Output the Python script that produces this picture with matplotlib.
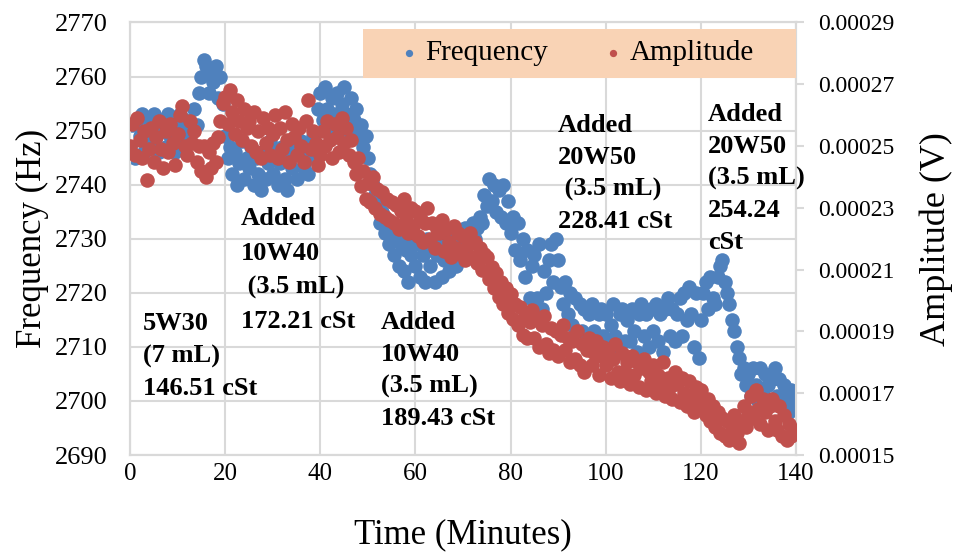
import numpy as np
import matplotlib.pyplot as plt
from matplotlib.patches import Rectangle

plt.rcParams['font.family'] = 'Liberation Serif'

# Sampling times (minutes), one reading every half minute
time_min = np.arange(0, 140.5, 0.5)

# Resonant frequency readings (Hz)
frequency_hz = [
    2747, 2751, 2745, 2752, 2749, 2753, 2746, 2750, 2752, 2748,
    2753, 2749, 2746, 2752, 2750, 2747, 2753, 2749, 2751, 2746,
    2750, 2753, 2747, 2752, 2749, 2751, 2750, 2754, 2751, 2757,
    2760, 2763, 2762, 2757, 2761, 2759, 2762, 2756, 2760, 2755,
    2749, 2745, 2747, 2742, 2746, 2740, 2744, 2748, 2741, 2745,
    2743, 2747, 2740, 2745, 2742, 2739, 2746, 2741, 2744, 2748,
    2742, 2746, 2740, 2744, 2747, 2741, 2739, 2745, 2743, 2747,
    2741, 2746, 2748, 2743, 2747, 2742, 2745, 2749, 2746, 2754,
    2757, 2752, 2758, 2754, 2750, 2756, 2753, 2757, 2751, 2755,
    2758, 2753, 2750, 2756, 2752, 2754, 2749, 2751, 2747, 2749,
    2745, 2742, 2740, 2738, 2736, 2733, 2735, 2731, 2733, 2729,
    2731, 2727, 2730, 2725, 2729, 2724, 2728, 2722, 2727, 2730,
    2725, 2729, 2723, 2727, 2722, 2730, 2725, 2728, 2722, 2727,
    2729, 2723, 2726, 2730, 2724, 2728, 2731, 2725, 2729, 2731,
    2728, 2732, 2729, 2731, 2733, 2730, 2732, 2734, 2733, 2738,
    2736, 2741, 2737, 2740, 2735, 2739, 2734, 2740, 2733, 2737,
    2731, 2734, 2728, 2733, 2726, 2730, 2723, 2728, 2719, 2725,
    2727, 2719, 2729, 2717, 2724, 2720, 2726, 2729, 2722, 2730,
    2726, 2721, 2718, 2722, 2716, 2720, 2714, 2719, 2713, 2718,
    2713, 2717, 2711, 2716, 2718, 2713, 2710, 2716, 2717, 2712,
    2716, 2710, 2714, 2718, 2712, 2709, 2716, 2717, 2711, 2715,
    2711, 2717, 2713, 2709, 2716, 2718, 2712, 2716, 2710, 2717,
    2713, 2718, 2711, 2716, 2709, 2717, 2719, 2712, 2717, 2711,
    2716, 2719, 2712, 2720, 2715, 2721, 2716, 2710, 2720, 2708,
    2715, 2720, 2722, 2717, 2723, 2719, 2718, 2723, 2725, 2726,
    2722, 2720, 2718, 2715, 2713, 2710, 2708, 2705, 2706, 2703,
    2705, 2701, 2706, 2703, 2700, 2706, 2702, 2705, 2703, 2700,
    2704, 2706, 2701, 2704, 2700, 2703, 2701, 2698, 2702, 2699,
    2700,
]

# Signal amplitude readings (microvolts)
amplitude_uv = [
    250, 257, 247, 259, 252, 246, 255, 239, 249, 256,
    245, 253, 258, 249, 243, 255, 248, 257, 251, 244,
    254, 260, 263, 250, 247, 258, 251, 255, 245, 250,
    242, 250, 240, 248, 243, 251, 245, 253, 258, 264,
    266, 257, 268, 261, 254, 265, 258, 252, 262, 256,
    258, 250, 261, 248, 255, 246, 259, 251, 256, 247,
    254, 260, 246, 256, 249, 261, 252, 245, 257, 253,
    247, 256, 250, 245, 258, 265, 249, 255, 251, 244,
    247, 255, 250, 258, 252, 246, 257, 253, 248, 259,
    251, 256, 247, 252, 245, 241, 246, 237, 242, 233,
    238, 232, 240, 230, 236, 228, 235, 227, 233, 226,
    232, 225, 231, 223, 229, 233, 226, 222, 230, 224,
    229, 221, 227, 219, 225, 230, 220, 225, 217, 223,
    222, 226, 216, 223, 219, 214, 224, 217, 222, 215,
    221, 213, 218, 222, 214, 219, 212, 217, 210, 215,
    214, 207, 211, 204, 209, 201, 206, 199, 204, 196,
    202, 194, 199, 192, 198, 189, 195, 188, 193, 197,
    188, 194, 185, 192, 195, 186, 183, 191, 184, 190,
    182, 189, 192, 184, 188, 180, 187, 181, 190, 179,
    186, 177, 184, 188, 179, 183, 187, 176, 182, 185,
    179, 184, 175, 181, 186, 177, 174, 183, 177, 180,
    173, 182, 176, 180, 172, 178, 181, 171, 177, 174,
    179, 170, 176, 173, 180, 169, 175, 172, 168, 177,
    173, 167, 175, 170, 166, 174, 169, 164, 172, 167,
    171, 165, 163, 168, 161, 166, 159, 164, 157, 162,
    156, 161, 155, 159, 163, 157, 154, 161, 166, 159,
    164, 169, 162, 171, 165, 160, 168, 164, 158, 166,
    168, 161, 158, 166, 156, 163, 155, 160, 156, 158,
    157,
]

# Oil additions: label text and (time, frequency) anchor of the text block
oil_labels = [
    "5W30\n(7 mL)\n146.51 cSt",
    "Added\n10W40\n (3.5 mL)\n172.21 cSt",
    "Added\n10W40\n(3.5 mL)\n189.43 cSt",
    "Added\n20W50\n (3.5 mL)\n228.41 cSt",
    "Added\n20W50\n(3.5 mL)\n254.24\ncSt",
]
label_t = [2.7, 23.3, 52.8, 90.0, 121.5]
label_f = [2716.4, 2735.8, 2716.7, 2753.1, 2755.2]
label_spacing = [1.5, 1.62, 1.5, 1.5, 1.5]

blue = '#4F81BD'
red = '#C0504D'
grid_c = '#D9D9D9'

fig = plt.figure(figsize=(9.59, 5.54), dpi=100)
ax = fig.add_axes([0.1356, 0.1787, 0.6945, 0.7807])
ax2 = ax.twinx()

ax.scatter(time_min, frequency_hz, s=110, color=blue, linewidths=0,
           label='Frequency', zorder=3)
ax2.scatter(time_min, np.array(amplitude_uv) * 1e-6, s=110, color=red,
            linewidths=0, label='Amplitude', zorder=3)

ax.set_xlim(0, 140)
ax.set_ylim(2690, 2770)
ax2.set_ylim(0.00015, 0.00029)
ax.set_xticks(np.arange(0, 141, 20))
ax.set_yticks(np.arange(2690, 2771, 10))
amp_ticks = np.arange(0.00015, 0.000291, 0.00002)
ax2.set_yticks(amp_ticks)
ax2.set_yticklabels([f"{v:.5f}" for v in amp_ticks])

ax.grid(True, color=grid_c, linewidth=1.5)
ax.set_axisbelow(True)
for a in (ax, ax2):
    for sp in a.spines.values():
        sp.set_color(grid_c)
        sp.set_linewidth(1.5)

ax.tick_params(axis='y', length=0, pad=16, labelsize=19)
ax.tick_params(axis='x', length=0, pad=6, labelsize=18)
ax2.tick_params(axis='y', length=6, width=1.5, color=grid_c, pad=10,
                labelsize=17)

ax.set_xlabel('Time (Minutes)', fontsize=25, labelpad=24)
ax.set_ylabel('Frequency (Hz)', fontsize=25, labelpad=4)
ax2.set_ylabel('Amplitude (V)', fontsize=26, labelpad=18)

for txt, tx, fy, ls in zip(oil_labels, label_t, label_f, label_spacing):
    ax2.text(tx, fy, txt, transform=ax.transData, fontsize=19,
             fontweight='bold', va='top', ha='left', linespacing=ls,
             zorder=5)

# Legend strip along the top
ax2.add_patch(Rectangle((0.3498, 0.872), 0.6502, 0.114, transform=ax2.transAxes,
                        facecolor='#F9D3B5', edgecolor='none', zorder=6))
h1, l1 = ax.get_legend_handles_labels()
h2, l2 = ax2.get_legend_handles_labels()
leg = ax2.legend(h1 + h2, l1 + l2, loc='center', bbox_to_anchor=(0.672, 0.929),
                 ncol=2, frameon=False, fontsize=21, markerscale=0.5,
                 handlelength=0.5, handletextpad=0.3, columnspacing=2.0)
leg.set_zorder(7)

fig.savefig('out.png', dpi=100)
